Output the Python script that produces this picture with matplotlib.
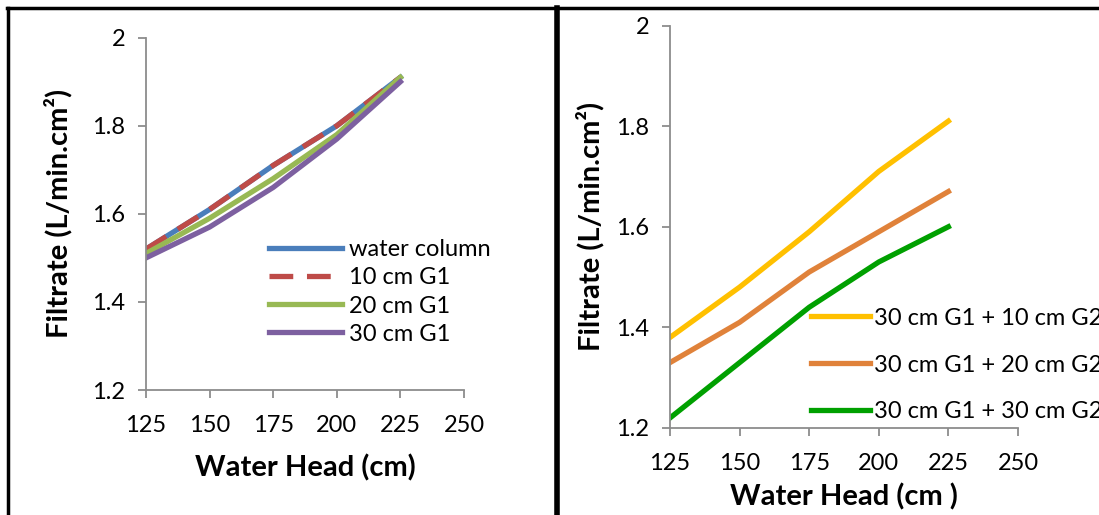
import matplotlib
matplotlib.use('Agg')
import matplotlib.pyplot as plt
from matplotlib.lines import Line2D

plt.rcParams['font.family'] = ['Lato', 'DejaVu Sans']

W, H = 1099, 515
fontsize = 17
labelsize = 21
linewidth = 3.8
axis_color = '#8c8c8c'

# data
water_head = [125, 150, 175, 200, 225]

left_labels = ['water column', '10 cm G1', '20 cm G1', '30 cm G1']
water_column = [1.52, 1.61, 1.71, 1.80, 1.91]
g1_10 = [1.52, 1.61, 1.71, 1.80, 1.91]
g1_20 = [1.51, 1.59, 1.68, 1.78, 1.91]
g1_30 = [1.50, 1.57, 1.66, 1.77, 1.90]

right_labels = ['30 cm G1 + 10 cm G2', '30 cm G1 + 20 cm G2', '30 cm G1 + 30 cm G2']
g2_10 = [1.38, 1.48, 1.59, 1.71, 1.81]
g2_20 = [1.33, 1.41, 1.51, 1.59, 1.67]
g2_30 = [1.22, 1.33, 1.44, 1.53, 1.60]

x_ticks = [125, 150, 175, 200, 225, 250]
y_ticks = [1.2, 1.4, 1.6, 1.8, 2.0]
y_ticklabels = ['1.2', '1.4', '1.6', '1.8', '2']


def px_axes(fig, x0, y0, x1, y1):
    # pixel box (top-left origin) -> figure fraction
    return fig.add_axes([x0 / W, 1 - y1 / H, (x1 - x0) / W, (y1 - y0) / H])


def style_axes(ax):
    ax.set_xlim(125, 250)
    ax.set_ylim(1.2, 2.0)
    ax.set_xticks(x_ticks)
    ax.set_yticks(y_ticks)
    ax.set_yticklabels(y_ticklabels)
    for s in ['top', 'right']:
        ax.spines[s].set_visible(False)
    for s in ['left', 'bottom']:
        ax.spines[s].set_color(axis_color)
        ax.spines[s].set_linewidth(1.3)
    ax.tick_params(axis='both', colors=axis_color, width=1.3, length=6,
                   labelsize=fontsize, labelcolor='black')
    ax.tick_params(axis='y', pad=9)
    ax.tick_params(axis='x', pad=12)
    ax.patch.set_alpha(0)


fig = plt.figure(figsize=(W / 100, H / 100), dpi=100)

# left panel
ax1 = px_axes(fig, 146, 37.7, 464, 390)
style_axes(ax1)
ax1.plot(water_head, water_column, color='#4a7ebb', lw=linewidth, label=left_labels[0])
ax1.plot(water_head, g1_10, color='#be4b48', lw=linewidth, dashes=(4.5, 2.6), label=left_labels[1])
ax1.plot(water_head, g1_20, color='#98b954', lw=linewidth, label=left_labels[2])
ax1.plot(water_head, g1_30, color='#7d60a0', lw=linewidth, label=left_labels[3])
ax1.set_xlabel('Water Head (cm)', fontsize=labelsize, fontweight='bold', labelpad=13)
ax1.set_ylabel('Filtrate (L/min.cm²)', fontsize=labelsize, fontweight='bold', labelpad=14)
ax1.legend(loc='center left', bbox_to_anchor=(269 / W, 1 - 292 / H), bbox_transform=fig.transFigure,
           frameon=False, fontsize=fontsize, handlelength=3.1, handletextpad=0.3,
           labelspacing=0.3, borderpad=0, borderaxespad=0)

# right panel
ax2 = px_axes(fig, 670, 25.5, 1018, 428)
style_axes(ax2)
ax2.plot(water_head, g2_10, color='#ffc000', lw=linewidth, label=right_labels[0])
ax2.plot(water_head, g2_20, color='#e0823a', lw=linewidth, label=right_labels[1])
ax2.plot(water_head, g2_30, color='#00a000', lw=linewidth, label=right_labels[2])
ax2.set_xlabel('Water Head (cm )', fontsize=labelsize, fontweight='bold', labelpad=7)
ax2.set_ylabel('Filtrate (L/min.cm²)', fontsize=labelsize, fontweight='bold', labelpad=8)
ax2.legend(loc='center left', bbox_to_anchor=(811 / W, 1 - 365 / H), bbox_transform=fig.transFigure,
           frameon=False, fontsize=fontsize, handlelength=2.5, handletextpad=0.15,
           labelspacing=1.1, borderpad=0, borderaxespad=0)

# panel borders
fig.add_artist(Line2D([7 / W, 1], [1 - 8 / H, 1 - 8 / H], color='black', lw=2.5, transform=fig.transFigure))
fig.add_artist(Line2D([7.5 / W, 7.5 / W], [0, 1 - 8 / H], color='black', lw=2.5, transform=fig.transFigure))
fig.add_artist(Line2D([557 / W, 557 / W], [0, 1 - 8 / H], color='black', lw=4, transform=fig.transFigure))

fig.savefig('out.png', dpi=100)
